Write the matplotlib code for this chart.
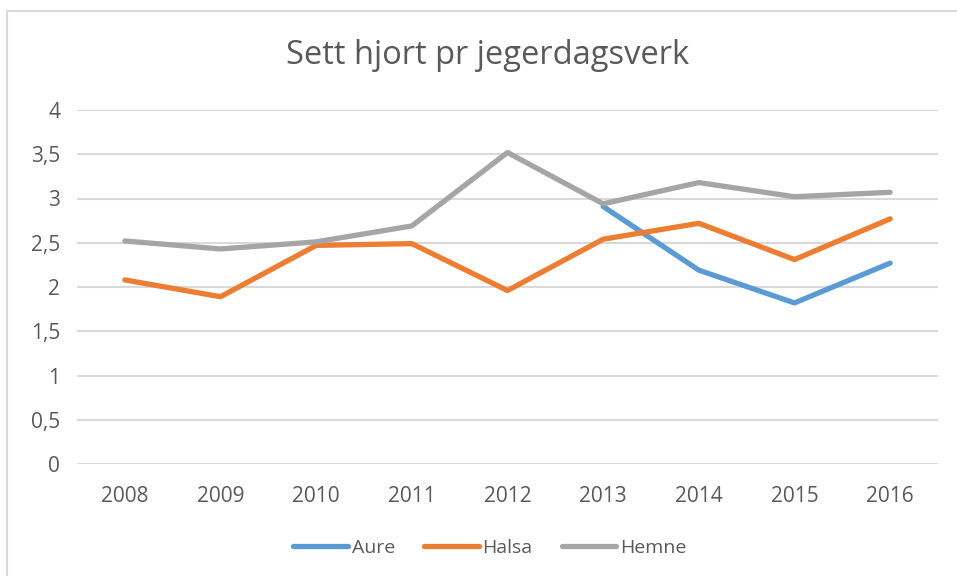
import numpy as np
import matplotlib
matplotlib.use("Agg")
import matplotlib.pyplot as plt
from matplotlib.patches import Rectangle

plt.rcParams['font.family'] = ['Open Sans', 'DejaVu Sans']

years = ["2008", "2009", "2010", "2011", "2012", "2013", "2014", "2015", "2016"]
aure = [np.nan, np.nan, np.nan, np.nan, np.nan, 2.91, 2.19, 1.82, 2.27]
halsa = [2.08, 1.89, 2.47, 2.49, 1.96, 2.54, 2.72, 2.31, 2.77]
hemne = [2.52, 2.43, 2.51, 2.69, 3.52, 2.94, 3.18, 3.02, 3.07]
yticks = [0, 0.5, 1, 1.5, 2, 2.5, 3, 3.5, 4]
ytick_labels = ["0", "0,5", "1", "1,5", "2", "2,5", "3", "3,5", "4"]

W, H = 957, 576
fig = plt.figure(figsize=(W / 100, H / 100), dpi=100)
ax = fig.add_axes([77 / W, 1 - 464 / H, (938 - 77) / W, (464 - 110) / H])

text_c = "#595959"
x = np.arange(len(years))
lw = 3.8
ax.plot(x, aure, color="#5B9BD5", lw=lw, label="Aure", solid_capstyle="round", solid_joinstyle="round")
ax.plot(x, halsa, color="#ED7D31", lw=lw, label="Halsa", solid_capstyle="round", solid_joinstyle="round")
ax.plot(x, hemne, color="#A5A5A5", lw=lw, label="Hemne", solid_capstyle="round", solid_joinstyle="round")

ax.set_xlim(-0.5, len(years) - 0.5)
ax.set_ylim(0, 4)
ax.set_yticks(yticks)
ax.set_yticklabels(ytick_labels)
ax.set_xticks(x)
ax.set_xticklabels(years)
ax.tick_params(axis='both', length=0, labelsize=15, colors=text_c)
ax.tick_params(axis='y', pad=12)
ax.tick_params(axis='x', pad=16)
ax.grid(axis='y', color="#D9D9D9", lw=1.5)
ax.set_axisbelow(True)
for s in ax.spines.values():
    s.set_visible(False)

fig.text(488 / W, 1 - 55 / H, "Sett hjort pr jegerdagsverk", ha="center", va="center",
         fontsize=23.5, color=text_c)

leg = fig.legend(loc="center", bbox_to_anchor=(490 / W, 1 - 548 / H), ncol=3, frameon=False,
                 fontsize=14, handlelength=2.8, handletextpad=0.2, columnspacing=1.5,
                 labelcolor=text_c)

fig.patches.append(Rectangle((7 / W, -0.05), 1.2, 1 - 11 / H + 0.05, transform=fig.transFigure,
                             fill=False, edgecolor="#D9D9D9", lw=1.5))

fig.savefig("out.png", dpi=100)
